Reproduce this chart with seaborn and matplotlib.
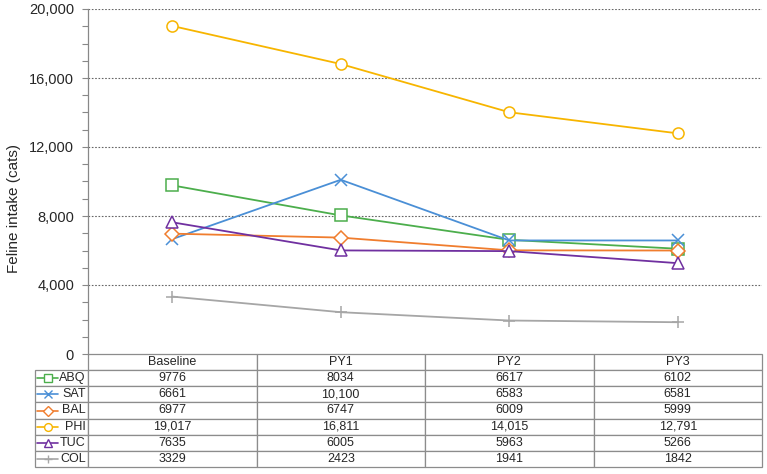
import pandas as pd
import matplotlib
matplotlib.use("Agg")
import matplotlib.pyplot as plt
import seaborn as sns

periods = ["Baseline", "PY1", "PY2", "PY3"]
cities = ["ABQ", "SAT", "BAL", "PHI", "TUC", "COL"]
abq = [9776, 8034, 6617, 6102]
sat = [6661, 10100, 6583, 6581]
bal = [6977, 6747, 6009, 5999]
phi = [19017, 16811, 14015, 12791]
tuc = [7635, 6005, 5963, 5266]
col = [3329, 2423, 1941, 1842]
series = [abq, sat, bal, phi, tuc, col]

colors = ["#4cae4c", "#4a8fd6", "#f07d2e", "#f7b500", "#7030a0", "#a6a6a6"]
markers = ["s", "x", "D", "o", "^", "+"]
msizes = [8, 8, 7, 8, 9, 9]

rows = []
for name, vals in zip(cities, series):
    for i, v in enumerate(vals):
        rows.append({"city": name, "pos": i, "period": periods[i], "intake": v})
df = pd.DataFrame(rows)

sns.set_style("white")
plt.rcParams["font.family"] = ["Liberation Sans", "DejaVu Sans"]

fig = plt.figure(figsize=(7.67, 4.74), dpi=100)
ax = fig.add_axes([88 / 767, 1 - 354 / 474, 674 / 767, 345 / 474])

for name, c, m, ms in zip(cities, colors, markers, msizes):
    sub = df[df["city"] == name]
    sns.lineplot(data=sub, x="pos", y="intake", ax=ax, color=c, marker=m,
                 markersize=ms, markerfacecolor="white", markeredgecolor=c,
                 markeredgewidth=1.1, linewidth=1.3, zorder=3)

ax.set_xlim(-0.5, 3.5)
ax.set_ylim(0, 20000)
ax.set_yticks(range(0, 20001, 4000))
ax.set_yticks(range(0, 20001, 1000), minor=True)
ax.set_yticklabels([f"{t:,}" for t in range(0, 20001, 4000)], fontsize=10.5)
ax.tick_params(axis="y", which="both", direction="out", left=True, length=4,
               width=0.8, color="#888888", pad=6)
ax.set_xticks([])
ax.set_xlabel("")
ax.set_ylabel("Feline intake (cats)", fontsize=11)
ax.yaxis.set_label_coords(-0.099, 0.423)
for t in range(4000, 20001, 4000):
    ax.axhline(t, color="#666666", linestyle=(0, (1.5, 1.5)), linewidth=0.8, zorder=1)
for s in ["top", "right", "bottom"]:
    ax.spines[s].set_visible(False)
ax.spines["left"].set_color("#888888")
ax.spines["left"].set_linewidth(0.9)

cell_text = [[name] + [f"{v:,}" if v >= 10000 else str(v) for v in vals]
             for name, vals in zip(cities, series)]
tbl = ax.table(cellText=cell_text, colLabels=[""] + periods,
               colWidths=[53] + [168.5] * 4, cellLoc="center",
               bbox=[-53 / 674, -113 / 345, 727 / 674, 113 / 345])
tbl.auto_set_font_size(False)
for (r, c), cell in tbl.get_celld().items():
    cell.set_edgecolor("#8c8c8c")
    cell.set_linewidth(0.9)
    cell.get_text().set_fontsize(9)
    if c == 0:
        cell.get_text().set_horizontalalignment("right")
        cell.PAD = 0.04
        if r == 0:
            cell.visible_edges = ""

# legend keys inside the row label cells
row_h = 113 / 345 / 7
for i, (c, m, ms) in enumerate(zip(colors, markers, msizes)):
    yc = -row_h * (i + 1.5)
    ax.plot([-51 / 674, -30 / 674], [yc, yc], transform=ax.transAxes,
            clip_on=False, color=c, linewidth=1.2)
    ax.plot([-40.5 / 674], [yc], transform=ax.transAxes, clip_on=False,
            color=c, marker=m, markersize=ms * 0.7, markerfacecolor="white",
            markeredgecolor=c, markeredgewidth=1.0)

fig.savefig("out.png", dpi=100)
